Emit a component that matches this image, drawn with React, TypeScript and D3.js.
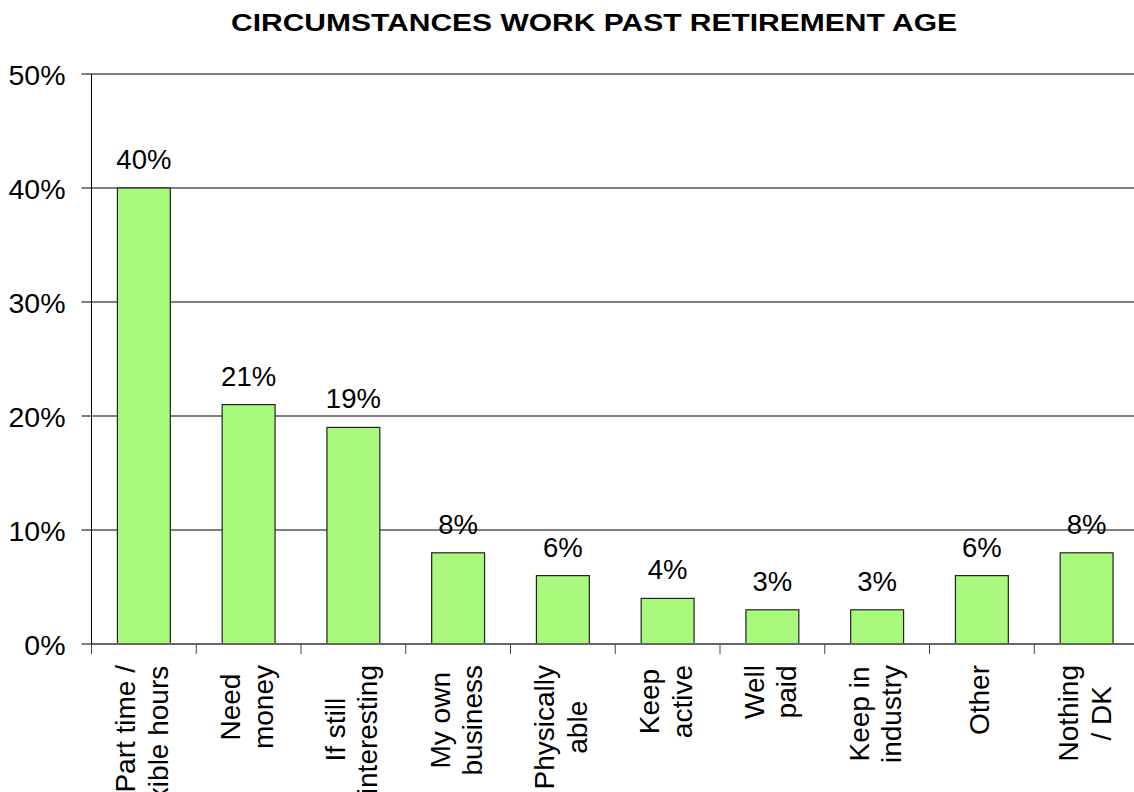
import React, { useRef, useEffect } from 'react';
import * as d3 from 'd3';

// chart data
const categories: string[][] = [
  ['\u00a0\u00a0\u00a0\u00a0\u00a0Part time /', 'flexible hours'],
  ['Need', 'money'],
  ['If still', 'interesting'],
  ['My own', 'business'],
  ['Physically', 'able'],
  ['Keep', 'active'],
  ['Well', 'paid'],
  ['Keep in', 'industry'],
  ['Other'],
  ['Nothing', '/ DK'],
];
const values: number[] = [40, 21, 19, 8, 6, 4, 3, 3, 6, 8];
const yTicks: number[] = [0, 10, 20, 30, 40, 50];
const title = 'CIRCUMSTANCES WORK PAST RETIREMENT AGE';

const W = 1134;
const H = 792;
const FONT = 'Arial, "Liberation Sans", sans-serif';

export default function App() {
  const svgRef = useRef<SVGSVGElement>(null);

  useEffect(() => {
    if (!svgRef.current) return;
    const svg = d3.select(svgRef.current);
    svg.selectAll('*').remove();

    const left = 91.5;
    const right = 1139;
    const top = 74;
    const bottom = 644;

    const x = d3.scaleBand<number>()
      .domain(d3.range(values.length))
      .range([left, right]);
    const y = d3.scaleLinear().domain([0, 50]).range([bottom, top]);
    const barW = x.bandwidth() * 0.505;

    // title
    svg.append('text')
      .attr('x', 594)
      .attr('y', 31)
      .attr('text-anchor', 'middle')
      .attr('font-family', FONT)
      .attr('font-weight', 'bold')
      .attr('font-size', 23.5)
      .attr('textLength', 726)
      .attr('lengthAdjust', 'spacingAndGlyphs')
      .text(title);

    // gridlines
    svg.append('g')
      .selectAll('line')
      .data(yTicks.filter(d => d > 0))
      .join('line')
      .attr('x1', left)
      .attr('x2', right)
      .attr('y1', d => y(d))
      .attr('y2', d => y(d))
      .attr('stroke', '#808080')
      .attr('stroke-width', 2);

    // y ticks + labels
    const yAxis = svg.append('g');
    yAxis.selectAll('line')
      .data(yTicks)
      .join('line')
      .attr('x1', left - 10)
      .attr('x2', left)
      .attr('y1', d => y(d))
      .attr('y2', d => y(d))
      .attr('stroke', '#000');
    yAxis.selectAll('text')
      .data(yTicks)
      .join('text')
      .attr('x', 65.5)
      .attr('y', d => y(d) + 11)
      .attr('text-anchor', 'end')
      .attr('font-family', FONT)
      .attr('font-size', 28.5)
      .text(d => d + '%');

    // bars
    svg.append('g')
      .selectAll('rect')
      .data(values)
      .join('rect')
      .attr('x', (d, i) => x(i)! + (x.bandwidth() - barW) / 2)
      .attr('y', d => y(d))
      .attr('width', barW)
      .attr('height', d => bottom - y(d))
      .attr('fill', '#a8f97c')
      .attr('stroke', '#222')
      .attr('stroke-width', 1.2);

    // value labels
    svg.append('g')
      .selectAll('text')
      .data(values)
      .join('text')
      .attr('x', (d, i) => x(i)! + x.bandwidth() / 2)
      .attr('y', d => y(d) - 19)
      .attr('text-anchor', 'middle')
      .attr('font-family', FONT)
      .attr('font-size', 27.5)
      .text(d => d + '%');

    // axis lines
    svg.append('line')
      .attr('x1', left).attr('x2', right)
      .attr('y1', bottom).attr('y2', bottom)
      .attr('stroke', '#666').attr('stroke-width', 2);
    svg.append('line')
      .attr('x1', left).attr('x2', left)
      .attr('y1', top).attr('y2', bottom + 10)
      .attr('stroke', '#000');

    // x ticks at band edges
    svg.append('g')
      .selectAll('line')
      .data(d3.range(values.length + 1))
      .join('line')
      .attr('x1', i => left + i * x.bandwidth())
      .attr('x2', i => left + i * x.bandwidth())
      .attr('y1', bottom)
      .attr('y2', bottom + 10)
      .attr('stroke', '#444');

    // category labels: rotated, lines centred, block hung from the axis
    const labelTop = 665;
    const lineGap = 32.5;
    categories.forEach((lines, i) => {
      const cx = x(i)! + x.bandwidth() / 2;
      const g = svg.append('g');
      const texts = lines.map(line =>
        g.append('text')
          .attr('font-family', FONT)
          .attr('font-size', 28)
          .attr('text-anchor', 'middle')
          .style('white-space', 'pre')
          .text(line)
      );
      const maxLen = d3.max(texts, t => (t.node() as SVGTextElement).getComputedTextLength()) || 0;
      const cy = labelTop + maxLen / 2;
      const first = lines.length === 1 ? cx + 7 : cx - 8.5;
      texts.forEach((t, k) => {
        t.attr('transform', `translate(${first + k * lineGap},${cy}) rotate(-90)`);
      });
    });
  }, []);

  return (
    <svg
      ref={svgRef}
      width={W}
      height={H}
      style={{ position: 'absolute', left: 0, top: 0, background: '#fff' }}
    />
  );
}
